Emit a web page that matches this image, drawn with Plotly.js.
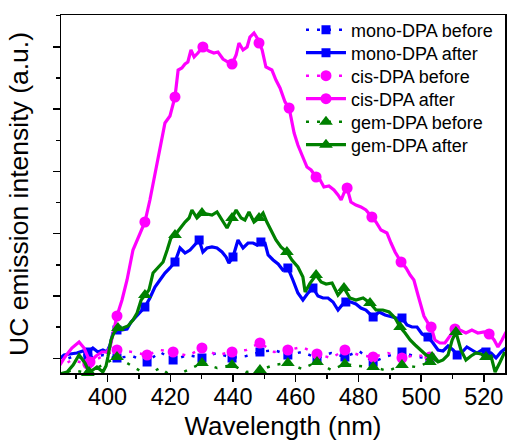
<!DOCTYPE html>
<html>
<head>
<meta charset="utf-8">
<script src="https://cdn.plot.ly/plotly-3.0.1.min.js"></script>
<style>html,body{margin:0;padding:0;background:#fff;}#chart{width:508px;height:441px;}</style>
</head>
<body>
<div id="chart"></div>
<script>
// ---- Data (intensity in arbitrary units) ----
const beforeWavelength = [384.2, 388.6, 393.7, 398.5, 403.0, 407.8, 412.6, 416.7, 420.9, 425.6, 430.1, 434.9, 439.7, 444.2, 448.6, 453.1, 457.5, 462.0, 466.8, 471.3, 475.7, 480.2, 484.7, 489.4, 493.9, 498.4, 502.8];
const beforeMarkers = [384.2, 393.7, 403.0, 412.6, 420.9, 430.1, 439.7, 448.6, 457.5, 466.8, 475.7, 484.7, 493.9, 502.8];
const monoBeforeY = [11.5, 16.5, 15.5, 18.5, 15.5, 17.5, 11.5, 21.5, 13.5, 18.5, 15.5, 20.5, 15.5, 17.5, 21.5, 23.5, 18.5, 21.5, 15.5, 20.5, 16.5, 22.5, 11.5, 17.5, 21.5, 16.5, 15.5];
const cisBeforeY = [5.5, 13.5, 9.5, 17.5, 23.5, 21.5, 18.5, 23.5, 21.5, 17.5, 25.5, 18.5, 21.5, 23.5, 30.5, 21.5, 23.5, 26.5, 19.5, 15.5, 23.5, 18.5, 16.5, 20.5, 15.5, 18.5, 16.5];
const gemBeforeY = [-3.5, 3.5, 0.5, 8.5, 16.5, 7.5, -1.5, 5.5, -3.5, 3.5, 10.5, 5.5, 8.5, 1.5, 3.5, 8.5, 10.5, 4.5, 11.5, 3.5, 9.5, 7.5, 6.5, 2.5, 8.5, 6.5, 11.5];

const monoAfterX = [383.5, 384.8, 386.1, 388.0, 390.2, 392.2, 393.7, 395.3, 396.9, 398.5, 399.8, 400.8, 401.7, 403.0, 404.6, 406.2, 407.5, 408.7, 410.3, 411.9, 413.5, 415.1, 416.7, 418.3, 419.9, 421.5, 423.1, 424.7, 426.3, 427.9, 429.2, 430.4, 431.7, 433.3, 434.9, 436.5, 437.8, 438.7, 440.0, 441.6, 443.2, 444.8, 446.4, 447.7, 448.9, 450.2, 451.2, 452.8, 454.4, 455.9, 457.5, 459.1, 460.7, 462.3, 463.9, 465.5, 467.1, 468.7, 470.3, 471.9, 473.5, 474.8, 476.0, 477.6, 479.2, 480.8, 482.4, 484.7, 486.6, 488.5, 490.4, 492.0, 493.9, 495.5, 497.1, 498.7, 500.3, 502.2, 503.8, 505.4, 507.0, 508.6, 510.2, 511.5, 513.1, 514.6, 516.2, 517.8, 519.4, 520.7, 522.3, 523.9, 525.5, 527.1];
const monoAfterY = [11.5, 15.5, 18.5, 19.5, 20.5, 22.5, 21.5, 25.5, 21.5, 23.5, 21.5, 28.5, 40.5, 43.5, 43.5, 44.5, 51.5, 55.5, 61.5, 66.5, 75.5, 86.5, 93.5, 100.5, 105.5, 111.5, 125.5, 120.5, 123.5, 129.5, 133.5, 121.5, 125.5, 126.5, 125.5, 121.5, 116.5, 110.5, 116.5, 133.5, 125.5, 130.5, 130.5, 128.5, 131.5, 130.5, 118.5, 113.5, 109.5, 103.5, 105.5, 93.5, 80.5, 73.5, 80.5, 85.5, 77.5, 75.5, 75.5, 71.5, 63.5, 68.5, 71.5, 71.5, 69.5, 65.5, 63.5, 56.5, 61.5, 58.5, 56.5, 55.5, 55.5, 48.5, 46.5, 46.5, 39.5, 36.5, 30.5, 23.5, 22.5, 27.5, 23.5, 18.5, 21.5, 26.5, 23.5, 20.5, 23.5, 21.5, 20.5, 15.5, 21.5, 25.5];
const monoAfterMarkers = [384.8, 393.7, 403.0, 411.9, 421.5, 429.2, 440.0, 448.9, 457.5, 465.5, 476.0, 484.7, 493.9, 502.2, 511.5, 520.7];

const cisAfterX = [384.2, 386.4, 388.6, 390.9, 392.5, 394.4, 396.3, 398.2, 399.8, 400.8, 402.0, 403.0, 404.6, 406.2, 408.1, 410.0, 411.9, 413.5, 415.1, 416.7, 418.3, 419.9, 421.5, 422.5, 423.7, 424.7, 425.6, 426.6, 427.6, 428.8, 430.4, 432.3, 433.9, 435.2, 436.8, 438.4, 439.7, 441.0, 441.9, 443.2, 444.5, 445.4, 446.7, 447.7, 448.3, 449.3, 450.5, 452.4, 453.7, 455.0, 456.6, 457.9, 459.5, 460.7, 462.0, 463.6, 464.9, 466.5, 467.8, 469.0, 470.6, 472.2, 473.5, 474.5, 475.4, 476.4, 477.6, 479.2, 480.8, 482.4, 484.3, 485.6, 487.2, 489.1, 490.4, 491.7, 493.6, 495.2, 496.5, 497.7, 499.0, 500.0, 500.9, 502.2, 503.2, 504.4, 506.0, 507.6, 509.2, 510.8, 512.4, 514.3, 516.2, 518.1, 520.1, 521.7, 523.3, 524.5, 525.8, 527.1];
const cisAfterY = [5.5, 16.5, 25.5, 31.5, 25.5, 11.5, 17.5, 21.5, 21.5, 26.5, 43.5, 57.5, 73.5, 93.5, 123.5, 138.5, 151.5, 173.5, 198.5, 225.5, 250.5, 257.5, 276.5, 303.5, 305.5, 309.5, 311.5, 323.5, 316.5, 320.5, 326.5, 322.5, 320.5, 321.5, 314.5, 311.5, 309.5, 318.5, 330.5, 323.5, 326.5, 336.5, 340.5, 335.5, 330.5, 323.5, 306.5, 303.5, 293.5, 285.5, 271.5, 265.5, 240.5, 228.5, 218.5, 206.5, 203.5, 196.5, 193.5, 186.5, 187.5, 183.5, 178.5, 173.5, 180.5, 185.5, 171.5, 168.5, 166.5, 163.5, 156.5, 151.5, 143.5, 140.5, 130.5, 121.5, 111.5, 105.5, 98.5, 93.5, 78.5, 68.5, 57.5, 50.5, 46.5, 33.5, 30.5, 30.5, 37.5, 44.5, 43.5, 40.5, 43.5, 40.5, 41.5, 39.5, 33.5, 26.5, 33.5, 41.5];
const cisAfterMarkers = [384.2, 394.4, 403.0, 411.9, 421.5, 430.4, 439.7, 448.3, 457.9, 466.5, 476.4, 484.3, 493.6, 503.2, 510.8, 521.7];

const gemAfterX = [383.5, 384.8, 387.1, 389.0, 390.9, 392.8, 394.1, 395.3, 396.6, 398.5, 399.5, 400.1, 401.1, 402.0, 403.3, 404.9, 406.5, 408.1, 409.4, 410.7, 411.9, 413.2, 414.5, 416.1, 417.7, 419.0, 420.2, 421.5, 423.1, 424.7, 426.0, 426.9, 428.5, 430.1, 431.7, 433.3, 434.9, 436.5, 438.1, 439.7, 441.0, 442.6, 443.8, 445.1, 446.7, 448.3, 449.6, 450.8, 452.1, 453.7, 455.3, 457.2, 458.8, 460.7, 462.3, 463.0, 464.6, 466.5, 468.1, 469.7, 471.6, 473.5, 475.4, 477.3, 479.2, 481.5, 483.7, 485.6, 487.8, 489.8, 491.7, 493.3, 494.9, 496.5, 498.1, 499.7, 501.6, 503.5, 505.4, 507.0, 508.6, 509.9, 511.1, 512.7, 514.3, 515.9, 517.5, 519.1, 520.7, 522.3, 523.6, 525.2, 526.7];
const gemAfterY = [-1.5, -0.5, 1.5, 8.5, 18.5, 10.5, 1.5, 3.5, 6.5, 1.5, 7.5, 16.5, 33.5, 40.5, 45.5, 45.5, 47.5, 53.5, 60.5, 73.5, 78.5, 83.5, 100.5, 105.5, 111.5, 123.5, 135.5, 138.5, 145.5, 151.5, 155.5, 163.5, 155.5, 160.5, 159.5, 158.5, 161.5, 153.5, 145.5, 155.5, 163.5, 155.5, 153.5, 161.5, 151.5, 155.5, 160.5, 151.5, 143.5, 133.5, 126.5, 121.5, 113.5, 106.5, 96.5, 81.5, 90.5, 98.5, 91.5, 89.5, 90.5, 78.5, 85.5, 75.5, 73.5, 75.5, 70.5, 63.5, 63.5, 61.5, 55.5, 46.5, 40.5, 33.5, 28.5, 23.5, 18.5, 16.5, 11.5, 13.5, 18.5, 33.5, 41.5, 23.5, 13.5, 17.5, 20.5, 19.5, 16.5, 17.5, 1.5, 11.5, 21.5];
const gemAfterMarkers = [384.8, 394.1, 403.3, 411.9, 421.5, 430.1, 439.7, 448.3, 457.2, 466.5, 475.4, 483.7, 493.3, 503.5, 511.1, 520.7];

const seriesNames = ['mono-DPA before', 'mono-DPA after', 'cis-DPA before', 'cis-DPA after', 'gem-DPA before', 'gem-DPA after'];

// ---- Styles ----
const BLUE = '#0000ff', MAGENTA = '#ff00ff', GREEN = '#008000';
const FONT = 'Arial, "Liberation Sans", sans-serif';
const legendIds = ['legend', 'legend2', 'legend3', 'legend4', 'legend5', 'legend6'];

function markerPoints(xs, ys, marks) {
  const mx = [], my = [];
  marks.forEach((m) => {
    const k = xs.indexOf(m);
    if (k < 0) return;
    if (mx.length) { mx.push(null); my.push(null); }
    mx.push(xs[k]); my.push(ys[k]);
  });
  return {mx, my};
}

function series(idx, xs, ys, marks, color, symbol, msize, isBefore) {
  const name = seriesNames[idx];
  const line = isBefore
    ? {color: color, width: 2.5, dash: '3px,8px'}
    : {color: color, width: 3.2};
  const mp = markerPoints(xs, ys, marks);
  return [
    {type: 'scatter', mode: 'lines', x: xs, y: ys, line: line, showlegend: false, hoverinfo: 'skip', name: name},
    {type: 'scatter', mode: 'lines+markers', x: mp.mx, y: mp.my, connectgaps: false, line: line,
     marker: {symbol: symbol, size: msize, color: color}, cliponaxis: false, name: name,
     showlegend: true, legend: legendIds[idx]}
  ];
}

const data = [].concat(
  series(0, beforeWavelength, monoBeforeY, beforeMarkers, BLUE, 'square', 9, true),
  series(1, monoAfterX, monoAfterY, monoAfterMarkers, BLUE, 'square', 9, false),
  series(2, beforeWavelength, cisBeforeY, beforeMarkers, MAGENTA, 'circle', 11, true),
  series(3, cisAfterX, cisAfterY, cisAfterMarkers, MAGENTA, 'circle', 11, false),
  series(4, beforeWavelength, gemBeforeY, beforeMarkers, GREEN, 'triangle-up', 12, true),
  series(5, gemAfterX, gemAfterY, gemAfterMarkers, GREEN, 'triangle-up', 12, false)
);

const layout = {
  width: 508, height: 441,
  margin: {l: 61, r: 3, t: 15, b: 68},
  paper_bgcolor: '#fff', plot_bgcolor: '#fff',
  font: {family: FONT, color: '#000'},
  showlegend: true,
  xaxis: {
    range: [385.14, 526.76], showgrid: false, zeroline: false,
    showline: true, linecolor: '#000', linewidth: 1.5, mirror: true,
    ticks: 'outside', ticklen: 7, tickwidth: 1.5, tickcolor: '#000',
    tick0: 400, dtick: 20, ticklabelstandoff: -5,
    minor: {ticks: 'outside', ticklen: 4, tickwidth: 1.5, tickcolor: '#000', dtick: 10, showgrid: false},
    tickfont: {family: FONT, size: 23.5, color: '#000'},
    title: {text: 'Wavelength (nm)', font: {family: FONT, size: 26, color: '#000'}, standoff: 9}
  },
  yaxis: {
    range: [0.5, 358.5], showgrid: false, zeroline: false,
    showline: true, linecolor: '#000', linewidth: 1.5, mirror: true,
    ticks: 'outside', ticklen: 7, tickwidth: 1.5, tickcolor: '#000',
    tick0: 15.2, dtick: 62.3, showticklabels: false,
    minor: {ticks: 'outside', ticklen: 4, tickwidth: 1.5, tickcolor: '#000', tick0: 15.2, dtick: 31.15, showgrid: false},
    title: {text: 'UC emission intensity (a.u.)', font: {family: FONT, size: 26.5, color: '#000'}, standoff: 16}
  }
};

// one single-entry legend per series so the row pitch matches the reference
const legendRowY = [30, 53, 76, 99, 122, 145];
legendIds.forEach((id, i) => {
  layout[id] = {
    x: 0.5405, xanchor: 'left',
    y: (373 - legendRowY[i]) / 358, yanchor: 'middle',
    bgcolor: 'rgba(0,0,0,0)', borderwidth: 0,
    font: {family: FONT, size: 18, color: '#000'}, itemwidth: 40
  };
});

Plotly.newPlot('chart', data, layout, {staticPlot: true, displayModeBar: false});
</script>
</body>
</html>
